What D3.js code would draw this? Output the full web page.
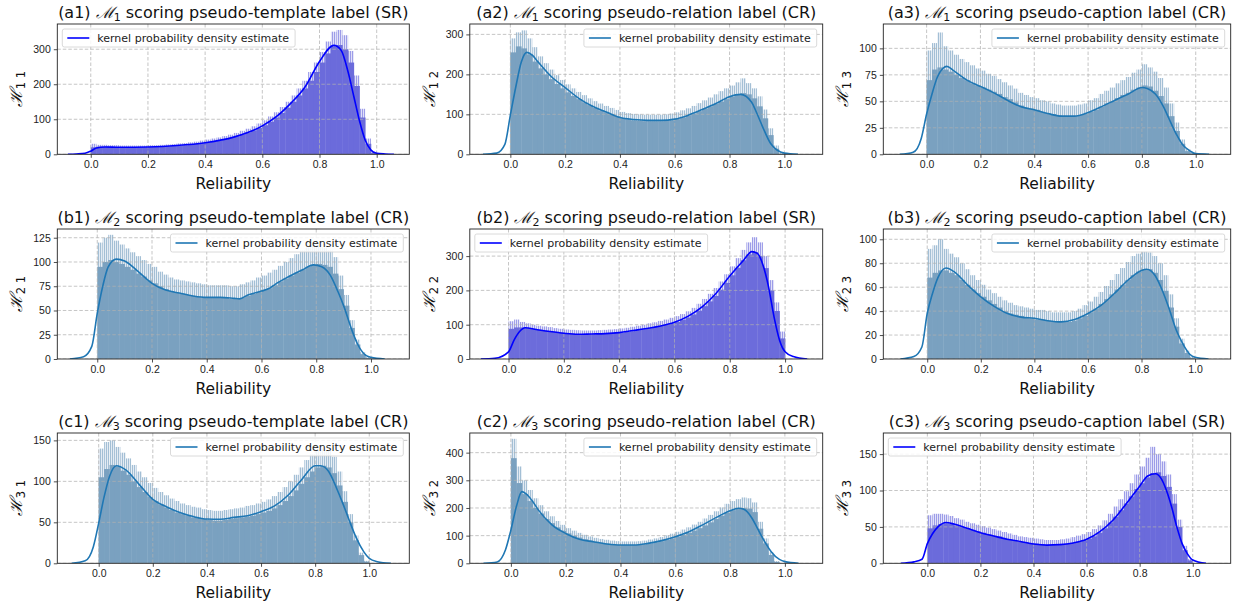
<!DOCTYPE html>
<html>
<head>
<meta charset="utf-8">
<script src="https://cdn.jsdelivr.net/npm/d3@7"></script>
<style>
  body { margin: 0; background: #fff; }
  svg { font-family: "DejaVu Sans", sans-serif; }
</style>
</head>
<body>
<div id="root"></div>
<script>
// histogram bins (left edges, width 0.02)
const binStarts = [0.00, 0.02, 0.04, 0.06, 0.08, 0.10, 0.12, 0.14, 0.16, 0.18,
  0.20, 0.22, 0.24, 0.26, 0.28, 0.30, 0.32, 0.34, 0.36, 0.38,
  0.40, 0.42, 0.44, 0.46, 0.48, 0.50, 0.52, 0.54, 0.56, 0.58,
  0.60, 0.62, 0.64, 0.66, 0.68, 0.70, 0.72, 0.74, 0.76, 0.78,
  0.80, 0.82, 0.84, 0.86, 0.88, 0.90, 0.92, 0.94, 0.96, 0.98];
const binWidth = 0.02;

// (a1) M1 template (SR)
const histA1 = [20,22,22,21,21,20,20,20,20,20, 21,21,22,23,24,25,26,28,30,32, 34,37,40,43,47,51,56,62,68,75, 83,93,105,118,133,150,168,188,210,235, 262,288,308,312,300,262,195,105,30,4];
const peakA1 = [30,27,27,26,26,25,25,25,25,25, 26,26,27,28,29,31,32,34,36,39, 42,45,48,52,56,61,67,73,80,88, 97,108,120,135,150,168,188,210,235,262, 292,322,350,355,340,295,225,130,45,8];
const kdeXA1 = [-0.08,-0.05,-0.02,0,0.02,0.05,0.1,0.2,0.3,0.4,0.5,0.6,0.65,0.7,0.75,0.8,0.85,0.875,0.9,0.92,0.94,0.96,0.98,1.0,1.03,1.06];
const kdeYA1 = [0,1,3,9,18,21,20,21,25,33,49,81,108,146,193,265,311,298,235,165,95,40,12,3,1,0];

// (a2) M1 relation (CR)
const histA2 = [255,270,265,250,232,215,200,188,176,165, 155,146,138,130,123,116,110,105,100,95, 90,87,85,84,83,83,83,83,84,85, 88,92,97,102,108,114,120,126,132,138, 144,150,153,150,140,120,90,48,14,1];
const peakA2 = [290,305,310,290,268,245,228,212,198,186, 175,165,156,148,140,133,127,121,116,111, 106,103,101,100,99,99,99,99,100,102, 105,110,115,121,128,135,142,150,158,165, 172,180,190,178,165,145,112,65,22,3];
const kdeXA2 = [-0.1,-0.05,-0.02,0,0.02,0.04,0.06,0.08,0.1,0.15,0.2,0.25,0.3,0.35,0.4,0.45,0.5,0.55,0.6,0.65,0.7,0.75,0.8,0.84,0.88,0.9,0.92,0.95,1.0,1.05];
const kdeYA2 = [0,3,25,98,169,231,255,248,232,194,167,140,120,106,92,87,85,85,88,98,112,127,144,150,131,102,70,27,3,0];

// (a3) M1 caption (CR)
const histA3 = [70,80,82,80,78,75,72,70,67,65, 63,61,59,57,54,52,49,46,44,43, 42,40,39,38,37,36,36,36,37,38, 40,42,45,48,50,53,56,58,61,63, 65,64,60,55,48,36,22,10,3,1];
const peakA3 = [98,105,115,102,98,94,90,87,84,81, 79,76,74,71,68,65,62,58,56,54, 53,51,50,48,47,46,46,46,47,48, 51,53,57,60,63,67,70,73,77,80, 85,82,78,72,63,48,30,14,5,1];
const kdeXA3 = [-0.1,-0.05,-0.02,0,0.02,0.04,0.06,0.075,0.1,0.15,0.2,0.25,0.3,0.35,0.4,0.45,0.5,0.55,0.6,0.65,0.7,0.75,0.8,0.82,0.85,0.88,0.9,0.93,0.95,0.98,1.0,1.05];
const kdeYA3 = [0,2,15,38,57,73,81,83,79,70,64,58,51,45,42,38.5,36,36,39.5,45,51,57,63,62,57,45,34,18,9.5,3,0.6,0];

// (b1) M2 template (CR)
const histB1 = [95,100,102,100,98,95,92,88,85,81, 78,75,72,70,68,67,66,65,64,63, 63,63,63,63,62,62,63,65,67,69, 71,73,76,80,83,86,89,92,95,97, 98,97,95,88,72,55,32,15,5,1];
const peakB1 = [120,125,128,122,118,114,110,106,102,98, 95,90,87,84,82,81,80,79,78,77, 76,76,76,76,75,75,77,79,81,84, 86,89,92,96,100,104,108,112,115,117, 118,115,112,105,86,66,40,20,7,2];
const kdeXB1 = [-0.1,-0.05,-0.02,0,0.02,0.04,0.07,0.1,0.15,0.2,0.25,0.3,0.35,0.4,0.45,0.5,0.52,0.55,0.6,0.63,0.65,0.7,0.75,0.79,0.82,0.85,0.88,0.9,0.93,0.95,0.98,1.0,1.05];
const kdeYB1 = [0,2.4,13,47,75,95,103,101,90,78,71,68,65,63.5,63.5,62.5,62,66,70,73,77,85,92,97,95,87,69,55,30,16,4,1.7,0];

// (b2) M2 relation (SR)
const histB2 = [88,92,92,90,88,85,83,81,79,77, 75,74,73,72,72,72,73,74,75,76, 77,79,81,84,87,90,93,96,100,104, 108,114,121,130,141,154,168,184,202,222, 244,266,288,305,312,300,265,200,140,60];
const peakB2 = [110,115,108,104,100,97,95,93,90,88, 86,85,84,83,83,83,84,85,86,87, 89,91,94,97,100,104,107,111,115,120, 125,131,139,149,161,175,190,207,226,247, 270,294,318,340,355,340,300,230,165,80];
const kdeXB2 = [-0.1,-0.05,0,0.02,0.04,0.06,0.1,0.15,0.2,0.25,0.3,0.35,0.4,0.45,0.5,0.55,0.6,0.65,0.7,0.75,0.8,0.85,0.88,0.9,0.92,0.94,0.96,0.98,1.0,1.03,1.08];
const kdeYB2 = [0,2,21,55,80,91,86,80,75,72,73,74,77,83,89,96,107,125,152,191,242,288,313,308,274,211,123,55,21,7,0];

// (b3) M2 caption (CR)
const histB3 = [68,72,74,74,72,70,66,62,58,55, 52,49,46,43,40,38,37,36,35,34, 33,33,32,31,31,31,31,32,34,36, 39,42,46,50,54,58,62,66,70,73, 75,75,72,66,57,43,27,13,5,1];
const peakB3 = [92,95,100,92,88,85,80,75,70,66, 62,58,55,52,49,47,45,44,43,42, 41,41,40,39,39,39,39,40,42,45, 48,52,56,61,66,71,76,81,86,88, 90,89,86,80,70,54,34,17,7,2];
const kdeXB3 = [-0.1,-0.05,-0.02,0,0.02,0.04,0.07,0.1,0.15,0.2,0.25,0.3,0.35,0.4,0.45,0.5,0.55,0.6,0.65,0.7,0.75,0.8,0.82,0.85,0.88,0.9,0.93,0.95,0.98,1.0,1.05];
const kdeYB3 = [0,2,10,38,55,68,76,73,62,52,44,38,35,34,32,31,33,38,45,55,66,74,75,70,56,44,24,14.5,4,1.4,0];

// (c1) M3 template (CR)
const histC1 = [105,115,120,118,113,108,100,93,87,81, 76,72,68,65,62,60,58,56,55,54, 53,52,52,53,54,55,56,57,58,60, 62,64,67,71,76,82,89,97,105,112, 117,119,117,110,95,75,50,28,10,2];
const peakC1 = [140,148,150,142,135,128,120,112,105,98, 92,87,83,79,76,73,71,69,68,66, 65,64,64,65,66,67,68,70,71,73, 75,78,82,87,93,100,108,117,126,133, 138,140,138,130,112,88,60,34,13,3];
const kdeXC1 = [-0.1,-0.05,-0.02,0,0.02,0.04,0.065,0.1,0.15,0.2,0.25,0.3,0.35,0.4,0.45,0.5,0.55,0.6,0.65,0.7,0.75,0.8,0.82,0.85,0.88,0.9,0.93,0.95,0.98,1.0,1.03,1.08];
const kdeYC1 = [0,3,20,49,81,106,119,114,96,78,69,62,57,54,53.7,56,58,63,70,83,102,119,119,112,91,75,49,32.5,14,6,2,0];

// (c2) M3 relation (CR)
const histC2 = [380,290,250,225,200,180,160,145,130,118, 108,100,93,87,82,78,74,71,69,67, 66,66,66,67,69,72,76,80,85,90, 96,103,110,118,127,137,148,160,172,183, 192,198,200,198,185,125,72,30,5,0];
const peakC2 = [450,350,300,265,235,210,188,170,153,139, 127,118,110,103,97,92,88,85,82,80, 79,79,79,80,82,86,90,95,101,107, 114,122,130,140,150,162,175,188,202,215, 225,232,238,235,220,150,90,40,8,1];
const kdeXC2 = [-0.1,-0.05,-0.02,0,0.02,0.04,0.06,0.08,0.1,0.15,0.2,0.25,0.3,0.35,0.4,0.45,0.5,0.55,0.6,0.65,0.7,0.75,0.8,0.83,0.85,0.88,0.9,0.93,0.95,0.98,1.0,1.05];
const kdeYC2 = [0,5,48,120,205,259,247,223,193,139,108,87,78,70,66,66,72,82,96,114,139,166,190,199,195,163,126,72,42,14,6,0];

// (c3) M3 caption (SR)
const histC3 = [48,52,54,55,54,52,50,48,46,44, 42,40,38,37,35,33,32,30,29,28, 27,26,25,25,25,26,27,28,30,32, 34,37,42,48,56,64,73,82,92,102, 110,118,124,125,120,105,82,50,18,4];
const peakC3 = [66,68,68,67,65,62,60,57,55,53, 51,49,47,45,43,41,39,37,36,35, 34,33,32,32,32,33,34,36,38,40, 43,47,52,59,68,78,88,99,110,122, 133,145,160,150,140,122,95,60,24,6];
const kdeXC3 = [-0.1,-0.05,-0.02,0,0.02,0.04,0.07,0.1,0.15,0.2,0.25,0.3,0.35,0.4,0.45,0.5,0.55,0.6,0.65,0.7,0.75,0.8,0.83,0.86,0.88,0.9,0.92,0.94,0.96,0.98,1.0,1.05];
const kdeYC3 = [0,2,5.5,27,41,50,56,54,48,42,37.5,33,30,26.5,25,25.6,28,33,43.5,59.5,82,106,120,123,117,101,78,50,27,13,4.6,0];

const xTicks = [0.0, 0.2, 0.4, 0.6, 0.8, 1.0];

const panels = [
  { tag: "a1", m: "1", kind: "template", mode: "SR", h: "1 1", hist: histA1, peak: peakA1, kx: kdeXA1, ky: kdeYA1, yTicks: [0, 100, 200, 300] },
  { tag: "a2", m: "1", kind: "relation", mode: "CR", h: "1 2", hist: histA2, peak: peakA2, kx: kdeXA2, ky: kdeYA2, yTicks: [0, 100, 200, 300] },
  { tag: "a3", m: "1", kind: "caption", mode: "CR", h: "1 3", hist: histA3, peak: peakA3, kx: kdeXA3, ky: kdeYA3, yTicks: [0, 25, 50, 75, 100] },
  { tag: "b1", m: "2", kind: "template", mode: "CR", h: "2 1", hist: histB1, peak: peakB1, kx: kdeXB1, ky: kdeYB1, yTicks: [0, 25, 50, 75, 100, 125] },
  { tag: "b2", m: "2", kind: "relation", mode: "SR", h: "2 2", hist: histB2, peak: peakB2, kx: kdeXB2, ky: kdeYB2, yTicks: [0, 100, 200, 300] },
  { tag: "b3", m: "2", kind: "caption", mode: "CR", h: "2 3", hist: histB3, peak: peakB3, kx: kdeXB3, ky: kdeYB3, yTicks: [0, 20, 40, 60, 80, 100] },
  { tag: "c1", m: "3", kind: "template", mode: "CR", h: "3 1", hist: histC1, peak: peakC1, kx: kdeXC1, ky: kdeYC1, yTicks: [0, 50, 100, 150] },
  { tag: "c2", m: "3", kind: "relation", mode: "CR", h: "3 2", hist: histC2, peak: peakC2, kx: kdeXC2, ky: kdeYC2, yTicks: [0, 100, 200, 300, 400] },
  { tag: "c3", m: "3", kind: "caption", mode: "SR", h: "3 3", hist: histC3, peak: peakC3, kx: kdeXC3, ky: kdeYC3, yTicks: [0, 50, 100, 150] },
];

// layout: axes boxes and axis limits per panel (matplotlib-like autoscale)
const cols = [[57.3, 409.3], [469.8, 822.7], [883.3, 1230.7]];
const rows = [[24, 154.3], [229, 359], [433, 563.3]];
const xLims = [[-0.117, 1.114], [-0.148, 1.140], [-0.161, 1.130],
               [-0.146, 1.140], [-0.140, 1.136], [-0.164, 1.133],
               [-0.153, 1.148], [-0.150, 1.138], [-0.166, 1.143]];
const yTops = [372, 326, 123, 134, 379, 108.6, 159, 471, 179];

const colors = {
  SR: { bar: "#6c6cdb", fuzzA: "#9d9de8", fuzzB: "#e2e2f8", line: "#0000ff" },
  CR: { bar: "#7aa1c0", fuzzA: "#a3bfd5", fuzzB: "#e4ecf3", line: "#1f77b4" },
};

const svg = d3.select("#root").append("svg")
  .attr("width", 1241)
  .attr("height", 607);

// thin-bar texture for the noisy tops of the histograms
const defs = svg.append("defs");
Object.entries(colors).forEach(([key, c]) => {
  const pat = defs.append("pattern")
    .attr("id", "fuzz" + key)
    .attr("patternUnits", "userSpaceOnUse")
    .attr("width", 2)
    .attr("height", 4);
  pat.append("rect").attr("width", 2).attr("height", 4).attr("fill", c.fuzzB);
  pat.append("rect").attr("width", 1).attr("height", 4).attr("fill", c.fuzzA);
});

panels.forEach((p, i) => {
  const [x0, x1] = cols[i % 3];
  const [y0, y1] = rows[Math.floor(i / 3)];
  const c = colors[p.mode];

  const x = d3.scaleLinear().domain(xLims[i]).range([x0, x1]);
  const y = d3.scaleLinear().domain([0, yTops[i]]).range([y1, y0]);

  const g = svg.append("g");
  const clipId = "clip" + i;
  g.append("clipPath").attr("id", clipId)
    .append("rect").attr("x", x0).attr("y", y0).attr("width", x1 - x0).attr("height", y1 - y0);

  const plot = g.append("g").attr("clip-path", `url(#${clipId})`);

  plot.selectAll("rect.fuzz")
    .data(p.peak)
    .enter()
    .append("rect")
    .attr("class", "fuzz")
    .attr("x", (d, j) => x(binStarts[j]))
    .attr("width", (d, j) => x(binStarts[j] + binWidth) - x(binStarts[j]))
    .attr("y", (d) => y(d))
    .attr("height", (d) => y(0) - y(d))
    .attr("fill", `url(#fuzz${p.mode})`);

  plot.selectAll("rect.bar")
    .data(p.hist)
    .enter()
    .append("rect")
    .attr("class", "bar")
    .attr("x", (d, j) => x(binStarts[j]))
    .attr("width", (d, j) => x(binStarts[j] + binWidth) - x(binStarts[j]) + 0.3)
    .attr("y", (d) => y(d))
    .attr("height", (d) => y(0) - y(d))
    .attr("fill", c.bar);

  // grid
  const grid = plot.append("g")
    .attr("stroke", "#b0b0b0")
    .attr("stroke-width", 0.8)
    .attr("stroke-dasharray", "3.5,2")
    .attr("opacity", 0.9);
  xTicks.forEach((t) => {
    grid.append("line").attr("x1", x(t)).attr("x2", x(t)).attr("y1", y0).attr("y2", y1);
  });
  p.yTicks.forEach((t) => {
    grid.append("line").attr("x1", x0).attr("x2", x1).attr("y1", y(t)).attr("y2", y(t));
  });

  // kde
  const line = d3.line()
    .x((d, j) => x(p.kx[j]))
    .y((d) => y(d))
    .curve(d3.curveMonotoneX);
  plot.append("path")
    .datum(p.ky)
    .attr("d", line)
    .attr("fill", "none")
    .attr("stroke", c.line)
    .attr("stroke-width", 1.6);

  // axes
  g.append("g")
    .attr("transform", `translate(0,${y1})`)
    .call(d3.axisBottom(x).tickValues(xTicks).tickFormat(d3.format(".1f")).tickSize(3.5).tickPadding(3))
    .call((a) => a.select(".domain").remove())
    .selectAll("text").attr("font-size", 10.5).attr("fill", "#222");
  g.append("g")
    .attr("transform", `translate(${x0},0)`)
    .call(d3.axisLeft(y).tickValues(p.yTicks).tickFormat(d3.format("d")).tickSize(3.5).tickPadding(3))
    .call((a) => a.select(".domain").remove())
    .selectAll("text").attr("font-size", 10.5).attr("fill", "#222");
  g.selectAll(".tick line").attr("stroke", "#222").attr("stroke-width", 0.8);

  g.append("rect")
    .attr("x", x0).attr("y", y0)
    .attr("width", x1 - x0).attr("height", y1 - y0)
    .attr("fill", "none")
    .attr("stroke", "#222")
    .attr("stroke-width", 0.9);

  // title
  const title = g.append("text")
    .attr("x", (x0 + x1) / 2)
    .attr("y", y0 - 6)
    .attr("text-anchor", "middle")
    .attr("font-size", 16)
    .attr("fill", "#111");
  title.append("tspan").text(`(${p.tag}) `);
  title.append("tspan").text("\u2133").attr("font-family", "DejaVu Serif").attr("font-style", "italic");
  title.append("tspan").text(p.m).attr("font-size", 11).attr("dy", 3);
  title.append("tspan").text(` scoring pseudo-${p.kind} label (${p.mode})`).attr("dy", -3);

  // x label
  g.append("text")
    .attr("x", (x0 + x1) / 2)
    .attr("y", y1 + 35)
    .attr("text-anchor", "middle")
    .attr("font-size", 15.5)
    .attr("fill", "#111")
    .text("Reliability");

  // y label
  const ycx = x0 - 35;
  const ycy = (y0 + y1) / 2;
  const yl = g.append("text")
    .attr("transform", `translate(${ycx},${ycy}) rotate(-90)`)
    .attr("text-anchor", "middle")
    .attr("font-size", 17)
    .attr("fill", "#111");
  yl.append("tspan").text("\u210B").attr("font-family", "DejaVu Serif").attr("font-style", "italic");
  yl.append("tspan").text(p.h).attr("font-size", 11.5).attr("dy", 3);

  // legend
  const leg = g.append("g");
  const legText = leg.append("text")
    .attr("font-size", 11)
    .attr("fill", "#222")
    .text("kernel probability density estimate");
  const tw = legText.node().getComputedTextLength();
  const lw = tw + 41;
  const lh = 18;
  const lx = p.mode === "SR" ? x0 + 5 : x1 - 6 - lw;
  const ly = y0 + 5;
  leg.insert("rect", "text")
    .attr("x", lx).attr("y", ly)
    .attr("width", lw).attr("height", lh)
    .attr("rx", 2)
    .attr("fill", "#fff")
    .attr("fill-opacity", 0.85)
    .attr("stroke", "#d0d0d0")
    .attr("stroke-width", 0.8);
  leg.append("line")
    .attr("x1", lx + 5).attr("x2", lx + 27)
    .attr("y1", ly + lh / 2).attr("y2", ly + lh / 2)
    .attr("stroke", c.line)
    .attr("stroke-width", 1.6);
  legText.attr("x", lx + 35).attr("y", ly + lh / 2 + 3.8);
});
</script>
</body>
</html>
